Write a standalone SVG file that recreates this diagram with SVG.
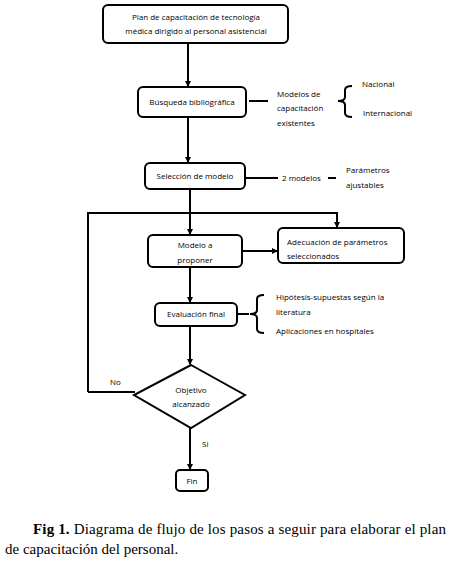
<svg xmlns="http://www.w3.org/2000/svg" width="449" height="564" viewBox="0 0 449 564">
<style>
.box{fill:#fff;stroke:#000;stroke-width:2}
.ln{fill:none;stroke:#000;stroke-width:2}
.t{font-family:"Open Sans","Liberation Sans",sans-serif;font-size:8px;fill:#000}
.c{text-anchor:middle}
.cap{font-family:"Liberation Serif",serif;font-size:15px;fill:#000}
</style>
<defs>
<marker id="ah" markerWidth="6" markerHeight="6" refX="5" refY="3" orient="auto" markerUnits="userSpaceOnUse">
<path d="M0,0 L6,3 L0,6 z" fill="#000"/>
</marker>
</defs>
<rect width="449" height="564" fill="#fff"/>
<g id="connectors">
<line class="ln" x1="188" y1="43" x2="188" y2="86" marker-end="url(#ah)"/>
<line class="ln" x1="188" y1="117" x2="188" y2="162" marker-end="url(#ah)"/>
<line class="ln" x1="190" y1="189" x2="190" y2="234" marker-end="url(#ah)"/>
<polyline class="ln" points="88,392 88,213 337,213 337,227" marker-end="url(#ah)"/>
<line class="ln" x1="88" y1="392" x2="135" y2="392"/>
<line class="ln" x1="242" y1="251" x2="277" y2="251" marker-end="url(#ah)"/>
<line class="ln" x1="190" y1="267" x2="190" y2="302" marker-end="url(#ah)"/>
<line class="ln" x1="190" y1="326" x2="190" y2="364" marker-end="url(#ah)"/>
<line class="ln" x1="190" y1="428" x2="190" y2="469" marker-end="url(#ah)"/>
<line class="ln" x1="249" y1="101" x2="268" y2="101"/>
<line class="ln" x1="245" y1="178" x2="278" y2="178"/>
<line class="ln" x1="328" y1="178" x2="336" y2="178"/>
<line class="ln" x1="237" y1="314" x2="249" y2="314"/>
<path class="ln" d="M352,86 Q345,86 345,90 L345,97 Q345,101 338,101 Q345,101 345,105 L345,113 Q345,117 352,117"/>
<path class="ln" d="M264,295 Q257,295 257,299 L257,310 Q257,314 250,314 Q257,314 257,318 L257,329 Q257,333 264,333"/>
<text class="t" x="110" y="385">No</text>
<text class="t" x="202" y="447">Si</text>
</g>
<g id="n-plan">
<rect class="box" x="103" y="5" width="185" height="38" rx="5"/>
<text class="t c" x="196" y="20">Plan de capacitación de tecnología</text>
<text class="t c" x="196" y="34">médica dirigido al personal asistencial</text>
</g>
<g id="n-busqueda">
<rect class="box" x="138" y="87" width="108" height="30" rx="5"/>
<text class="t c" x="192" y="105">Búsqueda bibliográfica</text>
</g>
<g id="n-modelos-cap">
<text class="t" x="277" y="97">Modelos de</text>
<text class="t" x="277" y="111">capacitación</text>
<text class="t" x="277" y="126">existentes</text>
</g>
<g id="n-nacional"><text class="t" x="362" y="87">Nacional</text></g>
<g id="n-internacional"><text class="t" x="363" y="116">Internacional</text></g>
<g id="n-seleccion">
<rect class="box" x="145" y="163" width="100" height="26" rx="5"/>
<text class="t c" x="195" y="179">Selección de modelo</text>
</g>
<g id="n-2modelos"><text class="t" x="282" y="181">2 modelos</text></g>
<g id="n-parametros">
<text class="t" x="346" y="173">Parámetros</text>
<text class="t" x="346" y="188">ajustables</text>
</g>
<g id="n-modelo">
<rect class="box" x="148" y="235" width="94" height="32" rx="5"/>
<text class="t c" x="195" y="248">Modelo a</text>
<text class="t c" x="195" y="263">proponer</text>
</g>
<g id="n-adecuacion">
<rect class="box" x="278" y="228" width="126" height="35" rx="5"/>
<text class="t" x="287" y="245">Adecuación de parámetros</text>
<text class="t" x="287" y="259">seleccionados</text>
</g>
<g id="n-evaluacion">
<rect class="box" x="155" y="303" width="82" height="23" rx="5"/>
<text class="t c" x="196" y="317">Evaluación final</text>
</g>
<g id="n-hipotesis">
<text class="t" x="276" y="300">Hipótesis-supuestas según la</text>
<text class="t" x="276" y="315">literatura</text>
</g>
<g id="n-aplicaciones"><text class="t" x="276" y="334">Aplicaciones en hospitales</text></g>
<g id="n-objetivo">
<polygon class="box" points="191,365 245,395 191,428 134,395"/>
<text class="t c" x="191" y="393">Objetivo</text>
<text class="t c" x="191" y="407">alcanzado</text>
</g>
<g id="n-fin">
<rect class="box" x="176" y="470" width="32" height="21" rx="4"/>
<text class="t c" x="192" y="484">Fin</text>
</g>
<g id="caption">
<text class="cap" x="33" y="534" textLength="413" lengthAdjust="spacing"><tspan font-weight="bold">Fig 1.</tspan> Diagrama de flujo de los pasos a seguir para elaborar el plan</text>
<text class="cap" x="5" y="554">de capacitación del personal.</text>
</g>
</svg>
